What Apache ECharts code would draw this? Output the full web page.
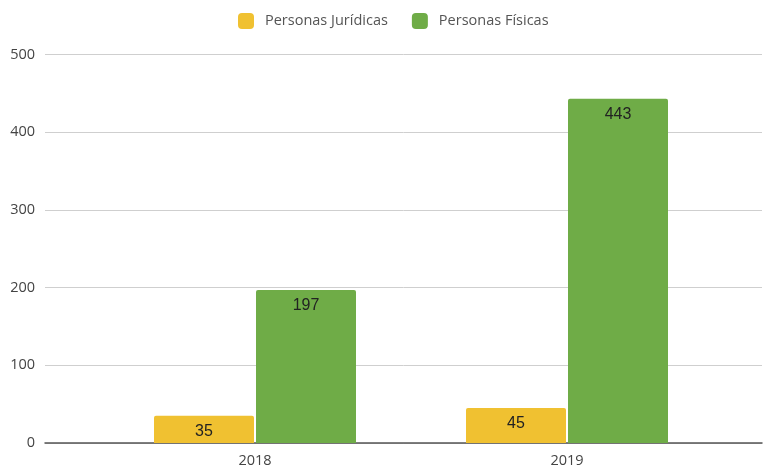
<!DOCTYPE html>
<html>
<head>
<meta charset="utf-8">
<script src="https://cdn.jsdelivr.net/npm/echarts@6/dist/echarts.min.js"></script>
<style>
  html, body { margin: 0; padding: 0; background: #fff; }
  #chart { width: 765px; height: 466px; }
</style>
</head>
<body>
<div id="chart"></div>
<script>
// data
const years = ['2018', '2019'];
const juridicas = [35, 45];
const fisicas = [197, 443];
const seriesNames = ['Personas Jurídicas', 'Personas Físicas'];
const yTicks = [0, 100, 200, 300, 400, 500];

const chart = echarts.init(document.getElementById('chart'));

const labelStyle = {
    show: true,
    position: 'insideTop',
    distance: 8,
    fontSize: 16,
    fontFamily: 'Liberation Sans, Arial, sans-serif',
    color: '#222'
};

let option = {
    animation: false,
    legend: {
        data: seriesNames,
        left: 233,
        top: 8,
        itemWidth: 16,
        itemHeight: 16,
        itemGap: 24,
        icon: 'roundRect',
        textStyle: {
            fontFamily: 'Open Sans, sans-serif',
            fontSize: 14.5,
            color: '#555',
            padding: [0, 0, 0, 6]
        }
    },
    grid: [
        // wide grid: gridlines, y labels, baseline
        {left: 45, right: 3, top: 54.5, bottom: 23, outerBoundsMode: 'none'},
        // narrower grid where the bars live
        {left: 99, right: 42, top: 54.5, bottom: 23, outerBoundsMode: 'none'}
    ],
    xAxis: [{
        type: 'category',
        gridIndex: 0,
        data: [''],
        axisLine: {lineStyle: {color: '#555', width: 1.5}},
        axisTick: {show: false},
        axisLabel: {show: false}
    }, {
        type: 'category',
        gridIndex: 1,
        data: years,
        axisLine: {show: false},
        axisTick: {show: false},
        axisLabel: {
            margin: 10,
            fontFamily: 'Open Sans, sans-serif',
            fontSize: 14.5,
            color: '#444'
        }
    }],
    yAxis: [{
        type: 'value',
        gridIndex: 0,
        min: yTicks[0],
        max: yTicks[yTicks.length - 1],
        interval: 100,
        axisLine: {show: false},
        axisTick: {show: false},
        axisLabel: {
            margin: 10,
            fontFamily: 'Open Sans, sans-serif',
            fontSize: 14.5,
            color: '#444'
        },
        splitLine: {lineStyle: {color: '#cfcfcf', width: 1}}
    }, {
        type: 'value',
        gridIndex: 1,
        min: yTicks[0],
        max: yTicks[yTicks.length - 1],
        interval: 100,
        show: false,
        splitLine: {show: false}
    }],
    series: [{
        name: seriesNames[0],
        type: 'bar',
        xAxisIndex: 1,
        yAxisIndex: 1,
        data: juridicas,
        barWidth: 100,
        barGap: '2%',
        itemStyle: {color: '#f0c131', borderRadius: [2, 2, 0, 0]},
        label: labelStyle
    }, {
        name: seriesNames[1],
        type: 'bar',
        xAxisIndex: 1,
        yAxisIndex: 1,
        data: fisicas,
        barWidth: 100,
        barGap: '2%',
        itemStyle: {color: '#6fac47', borderRadius: [2, 2, 0, 0]},
        label: labelStyle
    }]
};

chart.setOption(option);
</script>
</body>
</html>
